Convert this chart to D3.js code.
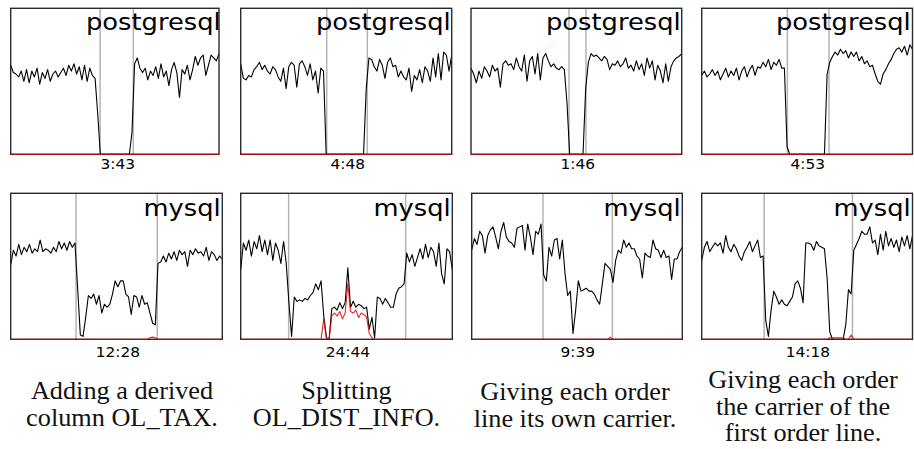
<!DOCTYPE html>
<html><head><meta charset="utf-8">
<script src="https://cdn.jsdelivr.net/npm/d3@7"></script>
<style>html,body{margin:0;padding:0;background:#fff;} svg{display:block;}</style>
</head><body><svg id="c" width="914" height="449"></svg>
<script>
// ---------- data (throughput, % of panel max; x = sample index) ----------
const pg1 = [61,56,55,53,57,50,58,49,57,53,59,48,56,52,58,50,55,57,53,56,59,54,61,57,62,55,60,51,61,50,59,54,52,
  28,0,0,0,0,0,0,0,0,0,0,0,0,15,
  62,66,59,56,59,51,57,54,60,52,62,53,57,47,58,63,56,39,58,55,61,51,58,67,61,66,68,54,61,68,66,64,69];
const pg2 = [62,52,51,54,53,58,60,63,58,61,57,55,60,58,53,50,59,45,60,63,61,46,62,64,60,54,62,51,57,42,59,57,
  0,0,0,0,0,0,0,0,0,0,0,0,0,0,0,45,
  66,65,60,57,65,61,52,63,66,60,61,53,57,53,51,59,43,54,51,58,49,60,57,50,66,53,69,51,70,68,57,68];
const pg3 = [59,55,49,57,52,60,57,53,61,57,59,46,62,64,61,62,58,66,60,57,68,50,64,67,55,69,51,66,69,64,60,62,59,58,60,58,
  35,0,0,0,0,0,0,45,63,
  69,67,68,66,64,67,65,58,62,61,64,60,62,66,59,61,57,64,58,62,54,66,59,64,51,61,57,49,62,50,60,64,66,67,69];
const pg4 = [54,57,53,55,58,54,57,51,55,59,53,57,54,59,51,57,60,53,58,61,54,60,59,63,60,65,58,63,61,65,59,59,
  5,0,0,0,0,0,0,0,0,0,0,0,0,0,0,55,
  63,67,70,68,72,69,71,66,70,67,70,64,67,62,64,60,61,55,50,48,55,58,62,65,69,72,73,70,74,68,75,72];
const my1 = [51,61,57,65,58,63,60,65,59,62,60,68,60,62,61,59,63,60,67,62,66,61,67,63,66,
  35,3,2,15,30,28,31,24,30,18,24,22,24,31,40,36,40,40,31,29,17,30,29,22,30,24,25,18,11,10,
  52,53,57,53,59,55,60,54,61,58,60,50,61,58,62,59,60,57,63,54,60,58,54,57,55];
const my2 = [47.5,66,61,68,57,67,62,71,60,68,58,68,54,66,61,52,67,52,25,2,
  29,26,27,26,28,27,30,32,38,34,40,16,1,0,21,22,20,25,21,25,
  49,22,26,22,24,23,21,22,7,15,1,29,28,24,28,25,22,22,31,35,
  36,38,59,53,58,50,56,62,55,65,56,63,60,50,66,45,38,62,60,47.5];
const my3 = [61,69,65,74,71,59,71,75,77,70,62,74,80,70,67,66,63,76,77,78,
  61,79,70,58,74,72,79,44,40,63,57,68,69,55,68,45,30,33,4,20,
  40,33,34,35,33,33,31,27,24,38,52,50,48,39,54,61,59,68,63,66,
  62,62,57,55,42,59,57,56,68,62,61,56,61,56,57,41,55,55,60,63];
const my4 = [54,63,67,60,63,66,64,66,59,71,63,60,65,62,57,54,60,63,67,60,
  64,68,56,57,13,2,20,33,29,24,27,24,23,26,29,38,40,35,25,66,
  66,65,61,67,64,63,62,42,5,0,0,0,0,0,10,34,31,61,65,69,
  74,72,72,77,66,68,58,72,61,74,64,69,63,68,60,70,64,71,62,71];

// second (red) series: zero except where noted
const zeros80 = new Array(80).fill(0);
const my1Red = [0,0,0,0,0,0,0,0,0,0,0,0,0,0,0,0,0,0,0,0,0,0,0,0,0,0,0,0,0,0,0,0,0,0,0,0,0,0,0,0,
  0,0,0,0,0,0,0,0,0,0,0,0,1,1.5,1,0,0,0,0,0,0,0,0,0,0,0,0,0,0,0,0,0,0,0,0,0,0,0,0,0];
const my2Red = [0,0,0,0,0,0,0,0,0,0,0,0,0,0,0,0,0,0,0,0,0,0,0,0,0,0,0,0,0,0,0,14,1,0,16,18,16,19,14,18,
  38,19,18,20,15,18,17,15,4,1,0,0,0,0,0,0,0,0,0,0,0,0,0,0,0,0,0,0,0,0,0,0,0,0,0,0,0,0,0,0];
const my3Red = [0,0,0,0,0,0,0,0,0,0,0,0,0,0,0,0,0,0,0,0,0,0,0,0,0,0,0,0,0,0,0,0,0,0,0,0,0,0,0,0,
  0,0,0,0,0,0,0,0,0,0,0,0,1.5,0,0,0,0,0,0,0,0,0,0,0,0,0,0,0,0,0,0,0,0,0,0,0,0,0,0,0];
const my4Red = [0,0,0,0,0,0,0,0,0,0,0,0,0,0,0,0,0,0,0,0,0,0,0,0,0,0,0,0,0,0,0,0,0,0,0,0,0,0,0,0,
  0,0,0,0,0,0,0,0,1,1,1,1,1,1,0,0,3,0,0,0,0,0,0,0,0,0,0,0,0,0,0,0,0,0,0,0,0,0,0,0];

// migration start/end markers (sample index)
const markers = [[33.9,46.5],[32.2,47.4],[36.75,43.1],[32.1,47.7],
                 [24.4,54.7],[17.9,61.6],[26.75,52.75],[23.4,56.5]];
const titles = ["postgresql","postgresql","postgresql","postgresql","mysql","mysql","mysql","mysql"];
const durations = ["3:43","4:48","1:46","4:53","12:28","24:44","9:39","14:18"];
const captions = [["Adding a derived","column OL_TAX."],
                  ["Splitting","OL_DIST_INFO."],
                  ["Giving each order","line its own carrier."],
                  ["Giving each order","the carrier of the","first order line."]];
const blackSeries = [pg1,pg2,pg3,pg4,my1,my2,my3,my4];
const redSeries = [zeros80,zeros80,zeros80,zeros80,my1Red,my2Red,my3Red,my4Red];

// ---------- layout ----------
const frames = [
  {x0:10.7,x1:219.0,y0:8.3,y1:154.3},{x0:240.7,x1:451.7,y0:8.3,y1:154.3},
  {x0:471.0,x1:681.7,y0:8.3,y1:154.3},{x0:701.7,x1:912.5,y0:8.3,y1:154.3},
  {x0:10.7,x1:222.3,y0:193.3,y1:339.3},{x0:240.7,x1:452.3,y0:193.3,y1:339.3},
  {x0:471.7,x1:682.3,y0:193.3,y1:339.3},{x0:701.7,x1:912.5,y0:193.3,y1:339.3}];
const titleBase = [30,216];
const labelBase = [169,356.5];
const capCenters = [122,346.5,575,803];
const capFirst = [399,399,400,387.8];
const capStep = 26.8;

const svg = d3.select("#c");

frames.forEach((f,i)=>{
  const row = i<4?0:1, col = i%4;
  const data = blackSeries[i], red = redSeries[i];
  const x = d3.scaleLinear().domain([0,data.length-1]).range([f.x0,f.x1]);
  const y = d3.scaleLinear().domain([0,100]).range([f.y1,f.y0]);
  const g = svg.append("g");
  // markers
  g.selectAll("line.m").data(markers[i]).enter().append("line")
    .attr("x1",d=>x(d)).attr("x2",d=>x(d)).attr("y1",f.y0).attr("y2",f.y1)
    .attr("stroke","#b4b4b4").attr("stroke-width",1.5);
  const line = d3.line().x((d,k)=>x(k)).y(d=>y(d));
  g.append("path").datum(data).attr("d",line).attr("fill","none")
    .attr("stroke","#000").attr("stroke-width",1.1).attr("stroke-linejoin","round");
  // frame
  g.append("rect").attr("x",f.x0).attr("y",f.y0).attr("width",f.x1-f.x0).attr("height",f.y1-f.y0)
    .attr("fill","none").attr("stroke","#2a2a2a").attr("stroke-width",1.4);
  g.append("path").datum(red).attr("d",line).attr("fill","none")
    .attr("stroke","#e00000").attr("stroke-width",1.1).attr("stroke-linejoin","round")
    .attr("stroke-opacity",0.85);
  // title
  g.append("text").attr("transform",`translate(${220.7+230*col},${titleBase[row]}) scale(1.12,1)`)
    .attr("text-anchor","end").attr("font-family","DejaVu Sans").attr("font-size",23)
    .attr("fill","#000").text(titles[i]);
  // duration label
  g.append("text").attr("transform",`translate(${117.8+230*col},${labelBase[row]}) scale(1.1,1)`)
    .attr("text-anchor","middle").attr("font-family","DejaVu Sans").attr("font-size",14)
    .attr("fill","#000").text(durations[i]);
});

captions.forEach((lines,c)=>{
  lines.forEach((t,k)=>{
    svg.append("text").attr("transform",`translate(${capCenters[c]},${capFirst[c]+k*capStep}) scale(1.05,1)`)
      .attr("text-anchor","middle").attr("font-family","Liberation Serif").attr("font-size",25)
      .attr("fill","#111").text(t);
  });
});
</script></body></html>
